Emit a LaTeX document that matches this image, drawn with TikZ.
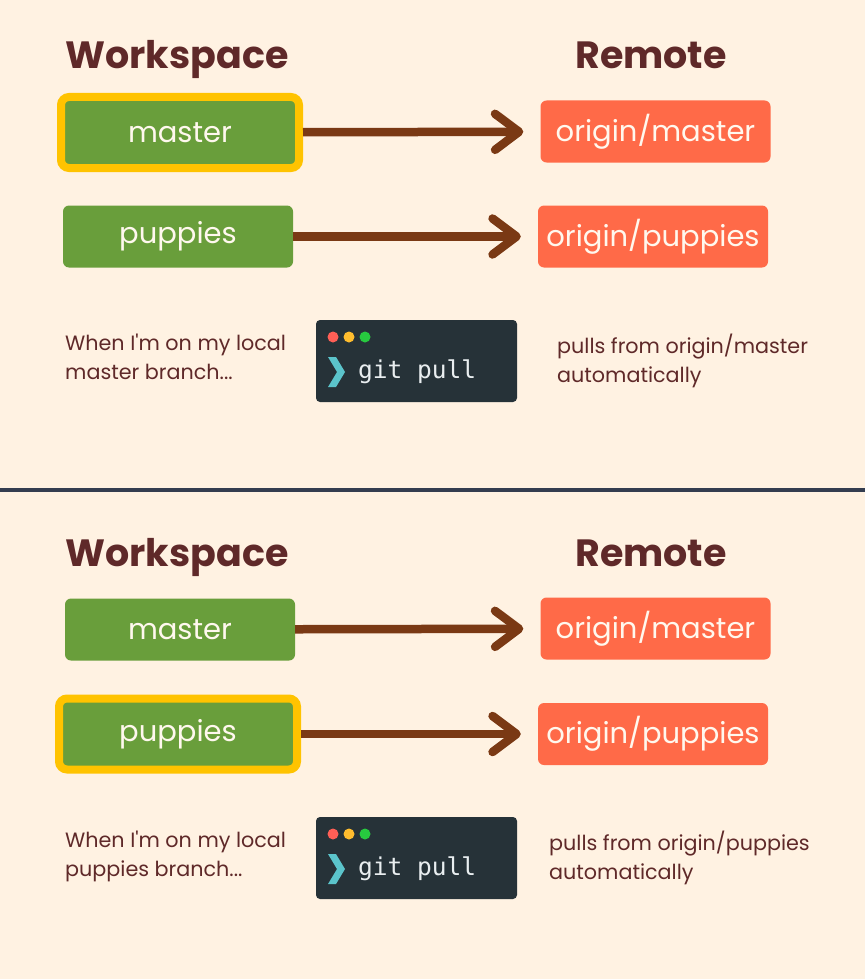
\documentclass[tikz,border=0pt]{standalone}
\usepackage{fontspec}
\setmainfont{Poppins}[Ligatures=TeXOff]
\setmonofont{DejaVu Sans Mono}
\usetikzlibrary{positioning,arrows.meta}

\definecolor{cream}{HTML}{FFF2E2}
\definecolor{maroon}{HTML}{5F2929}
\definecolor{leafgreen}{HTML}{699E3B}
\definecolor{gold}{HTML}{FFC300}
\definecolor{coral}{HTML}{FF6A48}
\definecolor{rust}{HTML}{7A3914}
\definecolor{boxtext}{HTML}{FFF8EE}
\definecolor{termbg}{HTML}{263238}
\definecolor{termtext}{HTML}{E9EEF0}
\definecolor{prompt}{HTML}{5BC4CB}
\definecolor{dotred}{HTML}{FF5F56}
\definecolor{dotyellow}{HTML}{FFBD2E}
\definecolor{dotgreen}{HTML}{27C93F}
\definecolor{divider}{HTML}{343D4F}

\tikzset{
  heading/.style={font=\fontsize{38}{44}\selectfont\bfseries, text=maroon,
    anchor=base, inner sep=0pt},
  branch/.style={fill=leafgreen, rounded corners=6pt, minimum width=230pt,
    minimum height=62pt, text=boxtext, font=\fontsize{29}{35}\selectfont,
    inner sep=0pt},
  current/.style={draw=gold, line width=8pt, minimum width=238pt,
    minimum height=71pt, rounded corners=8pt},
  tracking/.style={branch, fill=coral},
  pullarrow/.style={-{Straight Barb[length=24pt,width=36pt,round]},
    line width=8.5pt, draw=rust, shorten >=17pt},
  note/.style={font=\fontsize{20.7}{29}\selectfont, text=maroon, align=left,
    anchor=north west, inner sep=0pt},
  terminal/.style={fill=termbg, rounded corners=4pt, minimum width=201pt,
    minimum height=82pt, inner sep=0pt},
  lamp/.style={circle, inner sep=0pt, minimum size=11pt},
  command/.style={font=\ttfamily\fontsize{24.5}{30}\selectfont, text=termtext,
    anchor=base west, inner sep=0pt},
}

\begin{document}
\begin{tikzpicture}[x=1pt,y=-1pt]
  \useasboundingbox (0,0) rectangle (865,979);
  \fill[cream] (0,0) rectangle (865,979);

  % on master
  \node[heading] (ws1) at (177,69) {Workspace};
  \node[heading] (rm1) at (651,69) {Remote};
  \node[branch,current] (mst1) at (180,132.5) {master};
  \node[tracking] (omst1) at (655.5,131.5) {origin/master};
  \node[branch] (pup1) at (178,236.5) {puppies};
  \node[tracking] (opup1) at (653,236.5) {origin/puppies};
  \draw[pullarrow] (mst1) -- (omst1);
  \draw[pullarrow] (pup1) -- (opup1);
  \node[note] (when1) at (65,334) {When I'm on my local\\master branch...};
  \node[terminal] (term1) at (416.5,361) {};
  \node[lamp,fill=dotred] (red1) at (333,337) {};
  \node[lamp,fill=dotyellow] (yel1) at (349,337) {};
  \node[lamp,fill=dotgreen] (grn1) at (365,337) {};
  \fill[prompt] (328,357) -- (336,357) -- (345,372) -- (336,387)
    -- (328,387) -- (337,372) -- cycle;
  \node[command] (cmd1) at (358,378.5) {git pull};
  \node[note] (pulls1) at (557,334) {pulls from origin/master\\automatically};

  \fill[divider] (0,488) rectangle (865,492);

  % on puppies
  \begin{scope}[yshift=-497pt]
    \node[heading] (ws2) at (177,69) {Workspace};
    \node[heading] (rm2) at (651,69) {Remote};
    \node[branch] (mst2) at (180,132.5) {master};
    \node[tracking] (omst2) at (655.5,131.5) {origin/master};
    \node[branch,current] (pup2) at (178,237) {puppies};
    \node[tracking] (opup2) at (653,237) {origin/puppies};
    \draw[pullarrow] (mst2) -- (omst2);
    \draw[pullarrow] (pup2) -- (opup2);
    \node[note] (when2) at (65,334) {When I'm on my local\\puppies branch...};
    \node[terminal] (term2) at (416.5,361) {};
    \node[lamp,fill=dotred] (red2) at (333,337) {};
    \node[lamp,fill=dotyellow] (yel2) at (349,337) {};
    \node[lamp,fill=dotgreen] (grn2) at (365,337) {};
    \fill[prompt] (328,357) -- (336,357) -- (345,372) -- (336,387)
      -- (328,387) -- (337,372) -- cycle;
    \node[command] (cmd2) at (358,378.5) {git pull};
    \node[note] (pulls2) at (549,334) {pulls from origin/puppies\\automatically};
  \end{scope}
\end{tikzpicture}
\end{document}
